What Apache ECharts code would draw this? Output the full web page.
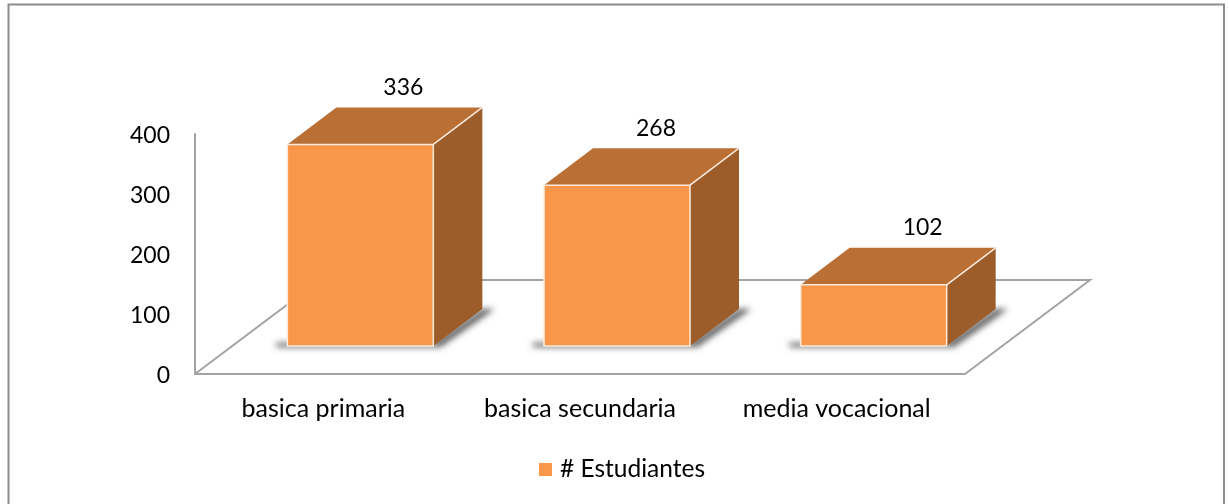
<!DOCTYPE html>
<html><head><meta charset="utf-8">
<style>html,body{margin:0;padding:0;background:#fff}#c{width:1229px;height:504px}</style>
<script src="https://cdn.jsdelivr.net/npm/echarts@6/dist/echarts.min.js"></script>
</head><body><div id="c"></div>
<script>
const categories = ['basica primaria', 'basica secundaria', 'media vocacional'];
const seriesName = '# Estudiantes';
const values = [336, 268, 102];
const yTicks = [0, 100, 200, 300, 400];

const FONT = 'Lato';
const TEXT = '#000';
const AXIS = '#a3a3a3';
const FRONT = '#F99649', TOP = '#BA6F34', SIDE = '#9C5D2B', EDGE = '#FCEBDD';
const floorDepth = [125, -94];   // floor depth vector
const barShift = [37, -28];      // bar base placed into the floor
const barDepth = [49, -37];      // depth of a bar
const barWidth = 146;
const labelNudge = [0, -4, 6];
const OFF = 3000;                // caster drawn off-canvas so only its soft shadow shows

const chart = echarts.init(document.getElementById('c'));

function floorItem(params, api) {
  const cs = params.coordSys;
  const x0 = cs.x, y0 = cs.y + cs.height, x1 = cs.x + cs.width;
  return {
    type: 'polyline', silent: true,
    shape: { points: [[x0, y0], [x0 + floorDepth[0], y0 + floorDepth[1]], [x1 + floorDepth[0], y0 + floorDepth[1]], [x1, y0]] },
    style: { fill: null, stroke: AXIS, lineWidth: 2 }
  };
}

function barItem(params, api) {
  const i = api.value(0), v = api.value(1);
  const base = api.coord([i, 0]), top = api.coord([i, v]);
  const l = base[0] + barShift[0] - barWidth / 2, r = l + barWidth;
  const yb = base[1] + barShift[1], yt = top[1] + barShift[1];
  const dx = barDepth[0], dy = barDepth[1];
  const edge = { stroke: EDGE, lineWidth: 1.5, lineJoin: 'round' };
  const caster = [[l - 12, yb - 3], [r, yb - 3], [r + dx, yb + dy], [r + dx + 12, yb + dy], [r + 7, yb + 1], [l - 10, yb + 1]]
    .map(p => [p[0] - OFF, p[1]]);
  return {
    type: 'group',
    children: [
      { type: 'polygon', shape: { points: caster },
        style: { fill: '#000', shadowBlur: 6, shadowOffsetX: OFF, shadowColor: 'rgba(70,70,70,0.9)' } },
      { type: 'polygon', shape: { points: [[l, yt], [l + dx, yt + dy], [r + dx, yt + dy], [r, yt]] }, style: { fill: TOP } },
      { type: 'polygon', shape: { points: [[r, yt], [r + dx, yt + dy], [r + dx, yb + dy], [r, yb]] }, style: { fill: SIDE } },
      { type: 'polyline', shape: { points: [[r, yt], [r + dx, yt + dy]] }, style: { fill: null, stroke: EDGE, lineWidth: 1.5 } },
      { type: 'rect', shape: { x: l, y: yt, width: barWidth, height: yb - yt }, style: Object.assign({ fill: FRONT }, edge) },
      { type: 'text', style: { x: l + barWidth / 2 + 43 + labelNudge[i], y: yt + dy - 20, text: String(v), fill: TEXT,
          font: '23px ' + FONT, align: 'center', verticalAlign: 'middle' } }
    ]
  };
}

chart.setOption({
  animation: false,
  backgroundColor: '#fff',
  grid: { left: 195, top: 134, width: 770, height: 240, containLabel: false },
  legend: {
    data: [{ name: seriesName, icon: 'rect' }], left: 534, top: 452, itemWidth: 13, itemHeight: 13, itemGap: 8,
    textStyle: { fontFamily: FONT, fontSize: 24.5, color: TEXT, padding: [0, 0, 0, 3] }
  },
  xAxis: {
    type: 'category', data: categories,
    axisLine: { lineStyle: { color: AXIS, width: 2 } }, axisTick: { show: false },
    axisLabel: { fontFamily: FONT, fontSize: 25, color: TEXT, margin: 22 }
  },
  yAxis: {
    type: 'value', min: yTicks[0], max: yTicks[yTicks.length - 1], interval: 100,
    axisLine: { show: true, lineStyle: { color: AXIS, width: 2 } }, axisTick: { show: false }, splitLine: { show: false },
    axisLabel: { color: TEXT, margin: 25, formatter: '{n|{value}}',
      rich: { n: { fontFamily: FONT, fontSize: 23, color: TEXT, padding: [4, 0, 0, 0] } } }
  },
  graphic: [{ type: 'polyline', silent: true, shape: { points: [[8.5, 510], [8.5, 4.5], [1224, 4.5], [1224, 510]] },
    style: { fill: null, stroke: '#8c8c8c', lineWidth: 2 } }],
  series: [
    { type: 'custom', name: 'floor', renderItem: floorItem, data: [[0, 0]], z: 1, silent: true, clip: false },
    { type: 'custom', name: seriesName, renderItem: barItem, itemStyle: { color: FRONT },
      data: values.map((v, i) => [i, v]), encode: { x: 0, y: 1 }, z: 2, clip: false }
  ]
});
</script></body></html>
